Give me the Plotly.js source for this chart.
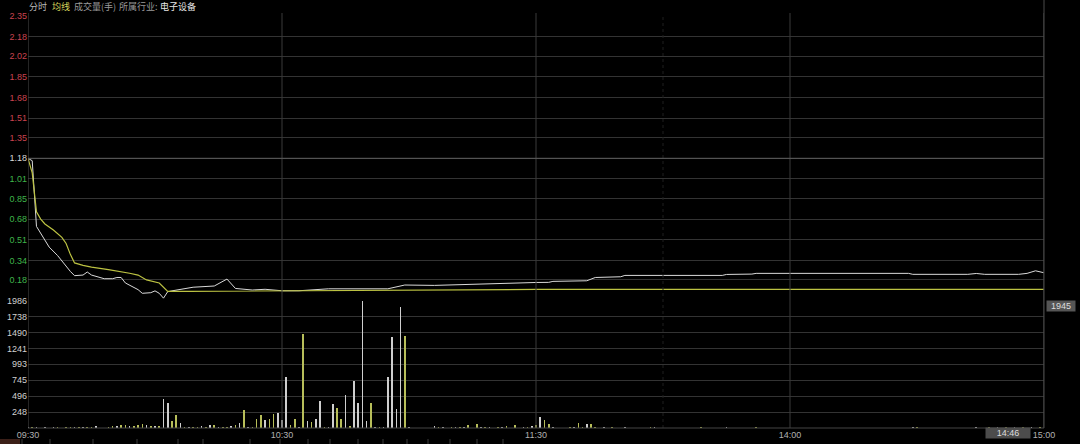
<!DOCTYPE html>
<html>
<head>
<meta charset="utf-8">
<script src="https://cdn.plot.ly/plotly-3.0.1.min.js"></script>
<style>
html,body{margin:0;padding:0;background:#000;}
#chart{width:1080px;height:444px;}
</style>
</head>
<body>
<div id="chart"></div>
<script>
// ---------- data ----------
const prevClose = 1.18;
const priceRange = [0.01, 2.35];

const timeTickLabels = ['09:30', '10:30', '11:30', '14:00', '15:00'];
const priceTickLabels = ['0.18','0.34','0.51','0.68','0.85','1.01','1.18','1.35','1.51','1.68','1.85','2.02','2.18','2.35'];
const pctTickLabels = ['84.99%','70.82%','56.66%','42.49%','28.33%','14.16%','0.00%','14.16%','28.33%','42.49%','56.66%','70.82%','84.99%','99.15%'];
const volTickLabels = ['248','496','745','993','1241','1490','1738','1986'];

const priceTimes = ['09:30','09:31','09:32','09:33','09:34','09:35','09:37','09:39','09:40','09:41','09:43','09:44','09:45','09:48','09:50','09:51','09:52','09:53','09:55','09:56','09:57','09:59','10:00','10:01','10:02','10:03','10:04','10:09','10:14','10:17','10:19','10:23','10:26','10:30','10:34','10:41','10:55','10:59','11:06','11:16','11:24','11:30','13:03','13:04','13:12','13:14','13:20','13:21','13:44','13:45','13:51','13:52','14:28','14:29','14:42','14:44','14:46','14:54','14:56','14:58','15:00'];
const priceValues = [1.18,1.16,0.62,0.56,0.50,0.45,0.38,0.29,0.25,0.215,0.22,0.245,0.22,0.19,0.19,0.20,0.20,0.155,0.12,0.10,0.07,0.075,0.09,0.07,0.03,0.083,0.09,0.12,0.13,0.187,0.11,0.097,0.103,0.091,0.091,0.107,0.107,0.138,0.135,0.146,0.157,0.159,0.16,0.168,0.173,0.20,0.206,0.217,0.217,0.225,0.228,0.234,0.234,0.226,0.226,0.233,0.226,0.226,0.234,0.255,0.239];

const avgTimes = ['09:30','09:31','09:32','09:33','09:34','09:36','09:38','09:39','09:40','09:41','09:43','09:45','09:49','09:51','09:54','09:56','09:58','10:01','10:02','10:03','10:08','10:34','10:58','11:30','15:00'];
const avgValues = [1.18,1.06,0.74,0.68,0.64,0.59,0.53,0.48,0.39,0.32,0.30,0.285,0.265,0.255,0.235,0.22,0.18,0.155,0.12,0.086,0.086,0.091,0.10,0.102,0.103];

const volTimes = ['09:30','09:31','09:32','09:33','09:34','09:35','09:36','09:37','09:38','09:39','09:40','09:41','09:42','09:43','09:44','09:45','09:46','09:47','09:48','09:49','09:50','09:51','09:52','09:53','09:54','09:55','09:56','09:57','09:58','09:59','10:00','10:01','10:02','10:03','10:04','10:05','10:06','10:07','10:08','10:09','10:10','10:11','10:12','10:13','10:14','10:15','10:16','10:17','10:18','10:19','10:20','10:21','10:22','10:23','10:24','10:25','10:26','10:27','10:28','10:29','10:30','10:31','10:32','10:33','10:34','10:35','10:36','10:37','10:38','10:39','10:40','10:41','10:42','10:43','10:44','10:45','10:46','10:47','10:48','10:49','10:50','10:51','10:52','10:53','10:54','10:55','10:56','10:57','10:58','10:59','11:00','11:06','11:07','11:08','11:10','11:11','11:12','11:13','11:14','11:16','11:17','11:18','11:19','11:21','11:22','11:23','11:25','11:27','11:28','11:29','11:30','13:01','13:02','13:03','13:04','13:08','13:09','13:10','13:11','13:12','13:13','13:14','13:16','13:18','13:21','13:27','13:28','13:39','13:45','13:52','14:29','14:30','14:44','14:47','14:49','14:51','14:53','14:55','14:57','14:59'];
const volValues = [12,8,10,6,9,7,8,10,6,9,8,12,10,9,12,20,37,6,5,8,30,35,40,42,25,35,50,64,45,38,30,35,448,385,103,199,76,15,10,12,20,30,18,40,40,12,20,8,30,50,83,278,15,15,146,199,119,135,215,235,119,798,40,135,15,1470,116,100,143,418,15,10,370,312,143,514,37,736,391,1986,116,391,15,10,10,795,1415,302,1881,1431,15,25,15,12,12,15,20,18,40,70,12,10,8,20,12,30,50,12,12,30,45,170,117,60,10,10,12,75,10,70,60,20,10,12,10,12,10,10,20,15,15,10,12,8,10,8,12,10,8,10];
const volUp = [1,0,1,0,1,0,1,0,1,0,0,1,0,1,0,0,1,0,1,0,0,1,0,0,1,0,0,0,1,0,1,0,1,1,0,0,1,0,1,0,0,1,0,1,0,1,0,0,1,0,1,0,1,0,0,0,1,0,0,1,1,1,0,0,1,0,1,0,1,1,0,1,1,0,0,1,0,1,1,1,1,0,1,0,1,1,1,1,1,0,1,1,0,1,0,1,0,1,0,0,1,0,1,0,1,0,0,1,0,1,0,1,0,0,1,0,1,0,0,1,0,0,1,0,1,0,1,0,1,0,1,0,1,0,1,0,1,0,1,0];

const headerLabels = ['分时', '均线', '成交量(手)'];
const industryLabel = '所属行业:';
const industryName = '电子设备';
const cursorVolume = '1945';
const cursorTime = '14:46';

// ---------- helpers ----------
function toIdx(t){
  const p = t.split(':').map(Number);
  const m = p[0]*60 + p[1];
  return m <= 690 ? m - 570 : m - 780 + 120;
}
const RED = '#c9434f', GREEN = '#3fb54a', NEUTRAL = '#d8d8d8';
function colorFor(v){ return Math.abs(v - prevClose) < 1e-6 ? NEUTRAL : (v > prevClose ? RED : GREEN); }
const priceTickVals = priceTickLabels.map(Number);
const priceTickText = priceTickLabels.map((s, i) => '<span style="color:' + colorFor(priceTickVals[i]) + '">' + s + '</span>');
const pctTickText = pctTickLabels.map((s, i) => '<span style="color:' + colorFor(priceTickVals[i]) + '">' + s + '</span>');
const volTickVals = volTickLabels.map(Number);

// geometry (pixels -> paper)
const W = 1080, H = 444, ML = 28, MR = 36, MT = 16, MB = 16;
const PW = W - ML - MR, PH = H - MT - MB;
const px = x => (x - ML) / PW;
const py = y => (H - MB - y) / PH;
const splitDomain = py(300.6);

const FONT = 'Liberation Sans, Arial, sans-serif';
const CJK = 'Noto Sans CJK SC, sans-serif';

const traces = [
  {
    type: 'bar', x: volTimes.map(toIdx), y: volValues, xaxis: 'x', yaxis: 'y2',
    width: 0.38, marker: {color: volUp.map(u => u ? '#cfcfcf' : '#b7be5a'), line: {width: 0}},
    hoverinfo: 'skip', showlegend: false
  },
  {
    type: 'scatter', mode: 'lines', x: priceTimes.map(toIdx), y: priceValues, xaxis: 'x', yaxis: 'y',
    line: {color: '#d9d9d9', width: 1}, hoverinfo: 'skip', showlegend: false
  },
  {
    type: 'scatter', mode: 'lines', x: avgTimes.map(toIdx), y: avgValues, xaxis: 'x', yaxis: 'y',
    line: {color: '#bcc242', width: 1.2}, hoverinfo: 'skip', showlegend: false
  }
];

const GRID = '#333333';
const shapes = [];
timeTickLabels.forEach(t => {
  const i = toIdx(t);
  shapes.push({type: 'line', xref: 'x', yref: 'paper', x0: i, x1: i, y0: 0, y1: py(13), line: {color: (i === 0 || i === 240) ? '#4a4a4a' : '#3a3a3a', width: 1}});
});
shapes.push({type: 'line', xref: 'x', yref: 'paper', x0: toIdx('13:30'), x1: toIdx('13:30'), y0: 0, y1: py(15), line: {color: '#1f1f1f', width: 1, dash: 'dot'}});
shapes.push({type: 'line', xref: 'paper', yref: 'y', x0: 0, x1: 1, y0: prevClose, y1: prevClose, line: {color: '#5c5c5c', width: 1}});
shapes.push({type: 'line', xref: 'paper', yref: 'paper', x0: 0, x1: 1, y0: 0, y1: 0, line: {color: '#444', width: 1}});
shapes.push({type: 'line', xref: 'paper', yref: 'paper', x0: 1, x1: 1, y0: 0, y1: py(0), line: {color: '#4a4a4a', width: 1}});
[22, 50, 93, 137, 178, 203, 250, 280, 308, 330, 358, 383, 407, 428, 450, 477, 503].forEach(x => {
  shapes.push({type: 'line', xref: 'paper', yref: 'paper', x0: px(x), x1: px(x), y0: py(439), y1: py(444), line: {color: '#3c3c3c', width: 1}});
});
shapes.push({type: 'rect', xref: 'paper', yref: 'paper', x0: px(0), x1: px(20), y0: py(439), y1: py(444), fillcolor: '#3b1f18', line: {width: 0}});

function hdr(x, text, color){
  return {xref: 'paper', yref: 'paper', x: px(x), y: py(7), xanchor: 'left', yanchor: 'middle', showarrow: false,
          text: text, font: {family: CJK, size: 9, color: color}, borderpad: 0};
}
const annotations = [
  hdr(28, headerLabels[0], '#b8b8b8'),
  hdr(51, headerLabels[1], '#d4d45a'),
  hdr(73, headerLabels[2], '#9a9a9a'),
  hdr(118, industryLabel, '#9a9a9a'),
  hdr(159, industryName, '#e6e6e6'),
  {xref: 'paper', yref: 'paper', x: px(1046), y: py(306), xanchor: 'left', yanchor: 'middle', showarrow: false, text: cursorVolume, font: {family: FONT, size: 9, color: '#dcdcdc'}, bgcolor: '#555555', width: 28, height: 10, borderpad: 0},
  {xref: 'paper', yref: 'paper', x: px(1008), y: py(433), xanchor: 'center', yanchor: 'middle', showarrow: false, text: cursorTime, font: {family: FONT, size: 9, color: '#dcdcdc'}, bgcolor: '#4c4c4c', width: 44, height: 10, borderpad: 0}
];

const layout = {
  width: W, height: H,
  margin: {l: ML, r: MR, t: MT, b: MB, pad: 0},
  paper_bgcolor: '#000', plot_bgcolor: '#000',
  showlegend: false, bargap: 0, hovermode: false,
  font: {family: FONT, size: 9, color: '#bbb'},
  xaxis: {
    range: [0, 240], domain: [0, 1], anchor: 'y2',
    tickvals: timeTickLabels.map(toIdx), ticktext: timeTickLabels,
    showgrid: false, zeroline: false, showline: false, ticks: '',
    tickfont: {family: FONT, size: 9, color: '#b0b0b0'}, fixedrange: true
  },
  yaxis: {
    domain: [splitDomain, 1], range: priceRange, anchor: 'x',
    tickvals: priceTickVals, ticktext: priceTickText,
    showgrid: true, gridcolor: GRID, gridwidth: 1, zeroline: false, showline: false, ticks: '',
    tickfont: {family: FONT, size: 9}, fixedrange: true
  },
  yaxis2: {
    domain: [0, splitDomain], range: [0, 1986], anchor: 'x',
    tickvals: volTickVals, ticktext: volTickLabels,
    showgrid: true, gridcolor: GRID, gridwidth: 1, zeroline: false, showline: false, ticks: '',
    tickfont: {family: FONT, size: 9, color: '#d0d0d0'}, fixedrange: true
  },
  yaxis3: {
    overlaying: 'y', side: 'right', anchor: 'x', range: priceRange,
    tickvals: priceTickVals, ticktext: pctTickText,
    showgrid: false, zeroline: false, showline: false, ticks: '',
    tickfont: {family: FONT, size: 9}, fixedrange: true
  },
  shapes: shapes,
  annotations: annotations
};

Plotly.newPlot('chart', traces, layout, {staticPlot: true, displayModeBar: false});
</script>
</body>
</html>
